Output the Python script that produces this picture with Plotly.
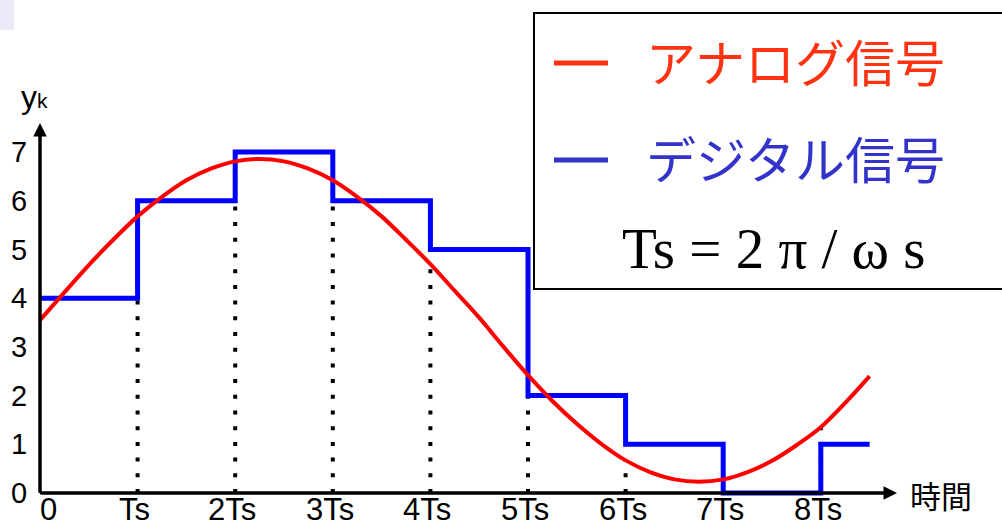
import plotly.graph_objects as go

# ---- data -------------------------------------------------------------
# analog signal, sampled every quarter period (time in units of Ts)
analog_t = [0, 0.25, 0.5, 0.75, 1, 1.25, 1.5, 1.75, 2, 2.25, 2.5, 2.75,
            3, 3.25, 3.5, 3.75, 4, 4.25, 4.5, 4.75, 5, 5.25, 5.5, 5.75,
            6, 6.25, 6.5, 6.75, 7, 7.25, 7.5, 7.75, 8, 8.25, 8.5]
analog_y = [3.55, 4.12, 4.68, 5.20, 5.68, 6.08, 6.42, 6.66, 6.81, 6.86, 6.81, 6.66,
            6.42, 6.08, 5.68, 5.20, 4.70, 4.15, 3.60, 3.00, 2.42, 1.89, 1.42, 1.01,
            0.67, 0.43, 0.28, 0.23, 0.28, 0.43, 0.66, 0.98, 1.35, 1.85, 2.40]

# quantised (digital) signal, held over each sampling interval
sample_t = [0, 1, 2, 3, 4, 5, 6, 7, 8]
digital_y = [4, 6, 7, 6, 5, 2, 1, 0, 1]
t_end = 8.5

x_tick_vals = [0, 1, 2, 3, 4, 5, 6, 7, 8]
x_tick_text = ["0", "Ts", "2Ts", "3Ts", "4Ts", "5Ts", "6Ts", "7Ts", "8Ts"]
y_tick_vals = [0, 1, 2, 3, 4, 5, 6, 7]

legend_analog = "アナログ信号"
legend_digital = "デジタル信号"
formula_text = "Ts = 2 π / ω s"
x_title = "時間"
y_title = "y<span style='font-size:21px'>k</span>"

# ---- geometry ---------------------------------------------------------
W, H = 1002, 523
X0_PX, UX = 40.0, 97.6      # pixel of t=0, pixels per Ts
Y0_PX, UY = 493.0, 48.7     # pixel of y=0, pixels per unit
x_range = [-X0_PX / UX, (W - X0_PX) / UX]
y_range = [-(H - Y0_PX) / UY, Y0_PX / UY]


def px(x):
    return x / W


def py(y):
    return 1 - y / H


RED = "#ff0000"
BLUE = "#0000ff"
LEG_RED = "#ff3311"
LEG_BLUE = "#3333cc"
SANS = "Liberation Sans, Arial, sans-serif"
CJK = "Noto Sans CJK JP, sans-serif"
SERIF = "Liberation Serif, Times New Roman, serif"

fig = go.Figure()

# dotted sampling lines from the axis up to the analog value
for k in x_tick_vals[1:]:
    v = analog_y[analog_t.index(k)]
    fig.add_trace(go.Scatter(
        x=[k, k], y=[0, v], mode="lines",
        line=dict(color="black", width=4, dash="4px,11.7px"),
        hoverinfo="skip", showlegend=False))

# digital staircase
fig.add_trace(go.Scatter(
    x=sample_t + [t_end], y=digital_y + [digital_y[-1]], mode="lines",
    line_shape="hv", line=dict(color=BLUE, width=5),
    hoverinfo="skip", showlegend=False))

# analog curve on top
fig.add_trace(go.Scatter(
    x=analog_t, y=analog_y, mode="lines", line_shape="spline",
    line=dict(color=RED, width=4), hoverinfo="skip", showlegend=False))

annotations = []

# axes with arrow heads
annotations.append(dict(x=0, y=(Y0_PX - 123) / UY, ax=0, ay=0,
                        xref="x", yref="y", axref="x", ayref="y", text="",
                        showarrow=True, arrowhead=2, arrowsize=0.9,
                        arrowwidth=3, arrowcolor="black"))
annotations.append(dict(x=(897 - X0_PX) / UX, y=0, ax=0, ay=0,
                        xref="x", yref="y", axref="x", ayref="y", text="",
                        showarrow=True, arrowhead=2, arrowsize=0.9,
                        arrowwidth=3, arrowcolor="black"))

# tick labels
for v in y_tick_vals:
    annotations.append(dict(x=px(29), y=v, xref="paper", yref="y",
                            text=str(v), showarrow=False, xanchor="right",
                            yanchor="middle", font=dict(family=SANS, size=29, color="black")))
for v, t in zip(x_tick_vals, x_tick_text):
    xv = v + (0.09 if v == 0 else -0.03)
    annotations.append(dict(x=xv, y=py(490), xref="x", yref="paper",
                            text=t, showarrow=False, xanchor="center",
                            yanchor="top", font=dict(family=SANS, size=31, color="black")))

# axis titles
annotations.append(dict(x=px(19), y=py(97), xref="paper", yref="paper",
                        text=y_title, showarrow=False, xanchor="left", yanchor="middle",
                        font=dict(family=SANS, size=32, color="black")))
annotations.append(dict(x=px(908), y=py(494), xref="paper", yref="paper",
                        text=x_title, showarrow=False, xanchor="left", yanchor="middle",
                        font=dict(family=CJK, size=31, color="black")))

# legend box contents
annotations.append(dict(x=px(644), y=py(60), xref="paper", yref="paper",
                        text=legend_analog, showarrow=False, xanchor="left", yanchor="middle",
                        font=dict(family=CJK, size=50, color=LEG_RED)))
annotations.append(dict(x=px(644), y=py(157), xref="paper", yref="paper",
                        text=legend_digital, showarrow=False, xanchor="left", yanchor="middle",
                        font=dict(family=CJK, size=50, color=LEG_BLUE)))
annotations.append(dict(x=px(620), y=py(248), xref="paper", yref="paper",
                        text=formula_text, showarrow=False, xanchor="left", yanchor="middle",
                        font=dict(family=SERIF, size=57, color="black")))

shapes = [
    # y axis and x axis lines
    dict(type="line", xref="x", yref="y", x0=0, y0=0, x1=0, y1=(Y0_PX - 130) / UY,
         line=dict(color="black", width=3)),
    dict(type="line", xref="x", yref="y", x0=0, y0=0, x1=(890 - X0_PX) / UX, y1=0,
         line=dict(color="black", width=3)),
    # legend frame
    dict(type="rect", xref="paper", yref="paper", x0=px(534), x1=px(1010),
         y0=py(289), y1=py(13), line=dict(color="black", width=2),
         fillcolor="rgba(0,0,0,0)"),
    # legend swatches
    dict(type="line", xref="paper", yref="paper", x0=px(554), x1=px(608),
         y0=py(63), y1=py(63), line=dict(color=LEG_RED, width=5)),
    dict(type="line", xref="paper", yref="paper", x0=px(554), x1=px(608),
         y0=py(160), y1=py(160), line=dict(color=LEG_BLUE, width=5)),
    # faint slide decoration in the corner
    dict(type="rect", xref="paper", yref="paper", x0=0, x1=px(14),
         y0=py(30), y1=1, line=dict(width=0), fillcolor="#e9e9f8", layer="below"),
]

fig.update_layout(
    width=W, height=H,
    margin=dict(l=0, r=0, t=0, b=0),
    paper_bgcolor="white", plot_bgcolor="white",
    xaxis=dict(range=x_range, visible=False, fixedrange=True),
    yaxis=dict(range=y_range, visible=False, fixedrange=True),
    annotations=annotations, shapes=shapes, showlegend=False,
)

fig.write_html("out.html")
